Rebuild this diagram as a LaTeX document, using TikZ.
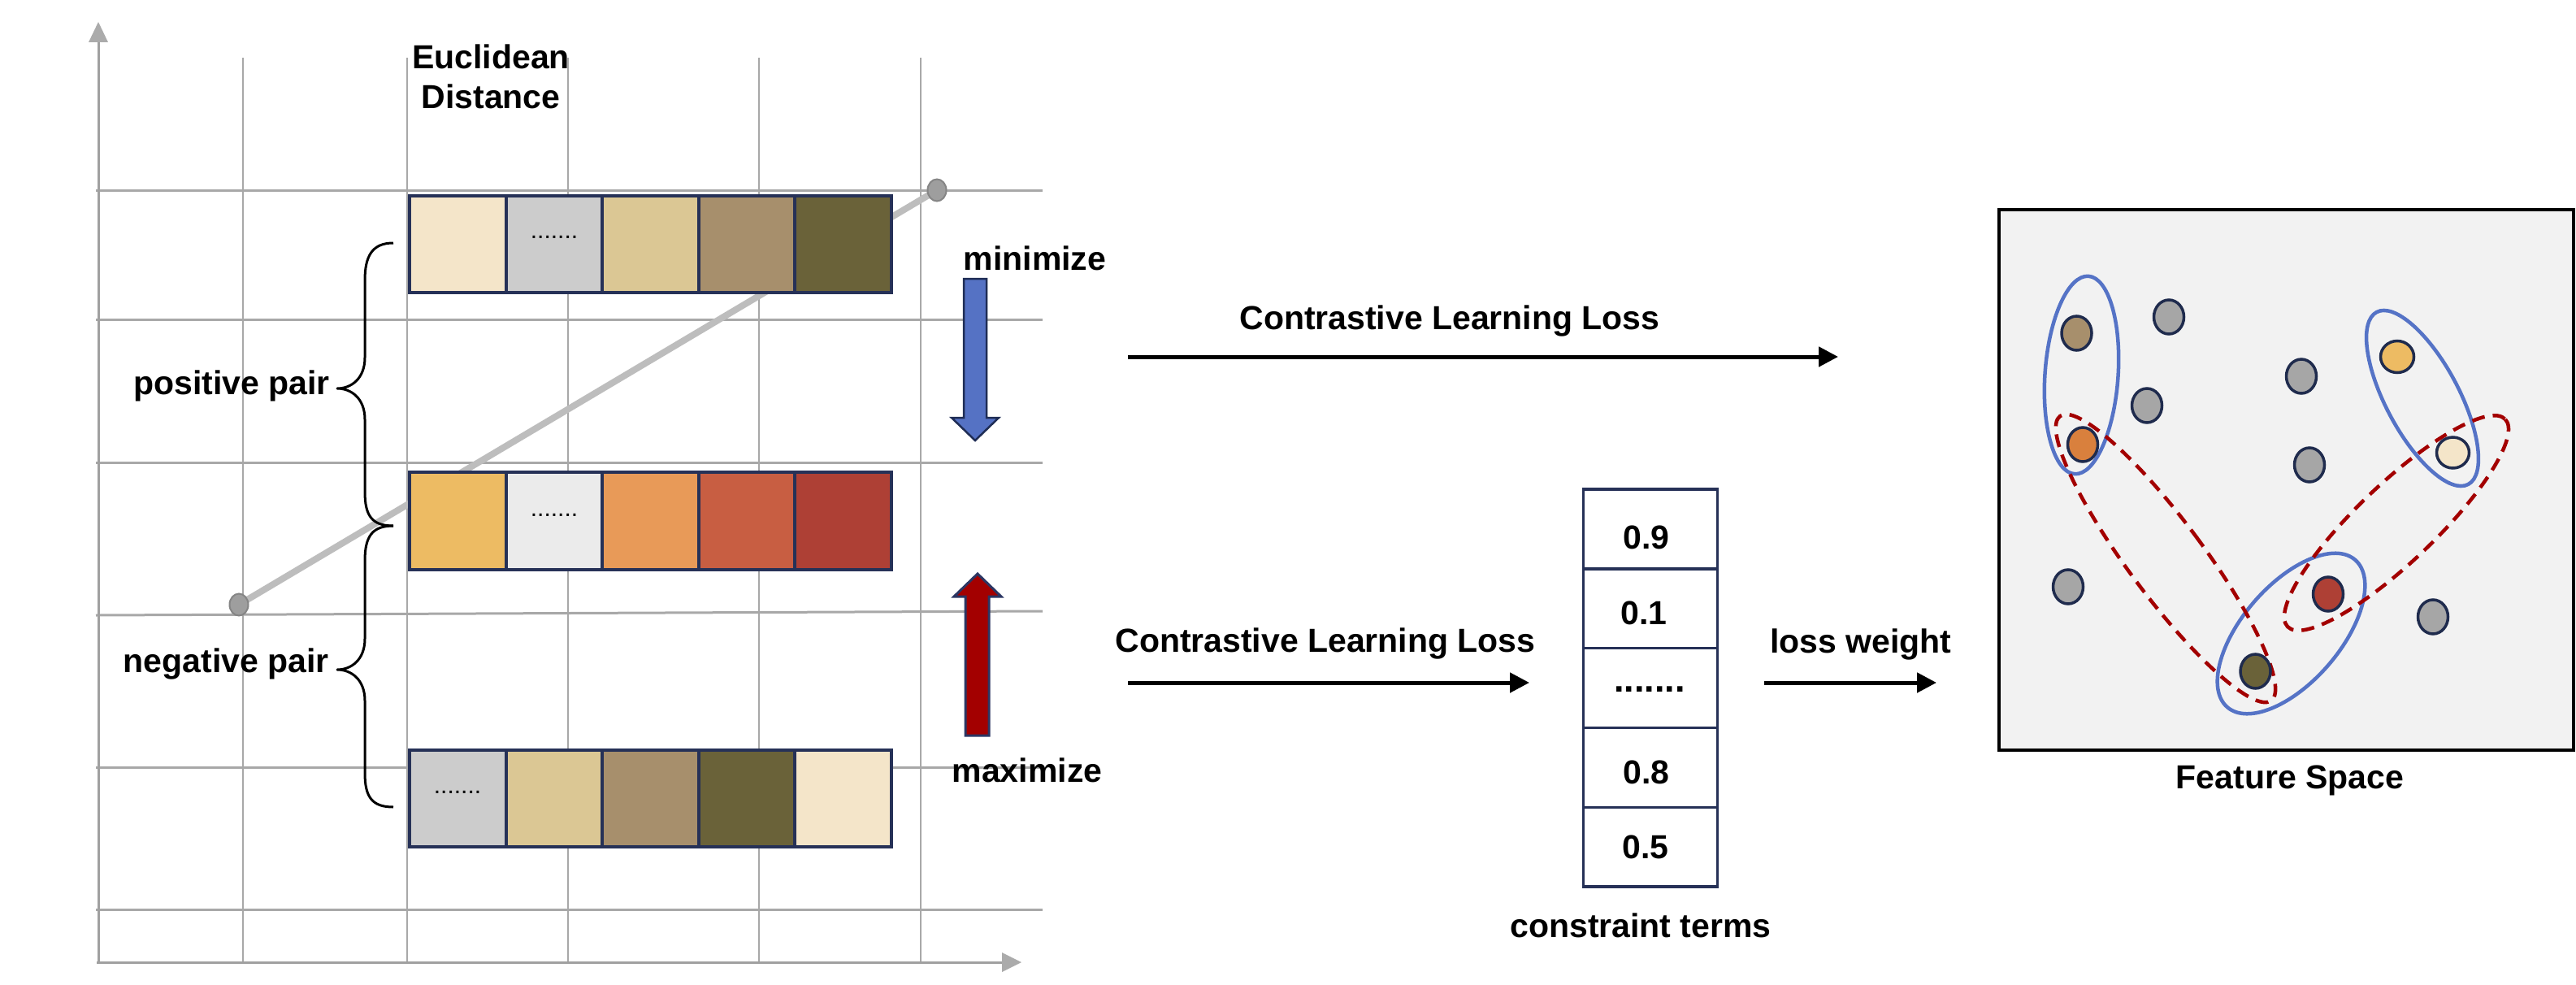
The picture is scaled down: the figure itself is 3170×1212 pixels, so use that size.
\documentclass[tikz,border=0pt]{standalone}
\usepackage{fontspec}
\setmainfont{Liberation Sans}
\usetikzlibrary{arrows.meta,shapes.geometric}
\definecolor{navy}{HTML}{263157}
\definecolor{dotnavy}{HTML}{1F2B4D}
\definecolor{gridc}{HTML}{A8A8A8}
\definecolor{axisc}{HTML}{A0A0A0}
\definecolor{axishead}{HTML}{ABABAB}
\definecolor{diagc}{HTML}{BDBDBD}
\definecolor{ballc}{HTML}{9E9E9E}
\definecolor{ballb}{HTML}{858585}
\definecolor{creamc}{HTML}{F4E5C9}
\definecolor{lgrayc}{HTML}{CCCCCC}
\definecolor{vlgrayc}{HTML}{EBEBEB}
\definecolor{tanc}{HTML}{DBC794}
\definecolor{brownc}{HTML}{A78F6C}
\definecolor{olivec}{HTML}{6A6239}
\definecolor{yellowc}{HTML}{EDBB63}
\definecolor{orangec}{HTML}{E89A58}
\definecolor{redorc}{HTML}{C85E42}
\definecolor{redc}{HTML}{AE4035}
\definecolor{dorangec}{HTML}{D9803D}
\definecolor{fgrayc}{HTML}{A6A6A6}
\definecolor{fsbg}{HTML}{F2F2F2}
\definecolor{ellblue}{HTML}{5573C6}
\definecolor{ellred}{HTML}{A30000}
\definecolor{arrblue}{HTML}{5572C4}
\definecolor{arrblueb}{HTML}{1F2D55}
\definecolor{arrred}{HTML}{A30000}
\definecolor{arrredb}{HTML}{2B3663}
\tikzset{
  lbl/.style={font=\fontsize{41pt}{49pt}\selectfont\bfseries, inner sep=0pt},
  vgrid/.style={draw=gridc, line width=2pt},
  hgrid/.style={draw=gridc, line width=3pt},
  cell/.style={draw=navy, line width=4pt, minimum width=118.6pt, minimum height=119.5pt, inner sep=0pt},
  tcell/.style={draw=navy, line width=3.5pt, minimum width=165pt, minimum height=97.8pt, inner sep=0pt},
  celldots/.style={font=\fontsize{30pt}{32pt}\selectfont, inner sep=0pt},
  fdot/.style={ellipse, draw=dotnavy, line width=3.5pt, minimum width=37pt, minimum height=42pt, inner sep=0pt},
  blueell/.style={draw=ellblue, line width=4.5pt},
  redell/.style={draw=ellred, line width=4.5pt, dash pattern=on 16pt off 10pt},
  flow/.style={line width=5pt, -{Triangle[length=24pt, width=24pt]}},
  bracepath/.style={line width=3pt, line join=round},
}
\begin{document}
\begin{tikzpicture}[x=1pt,y=-1pt]
\useasboundingbox (0,0) rectangle (3170,1212);

% ---------- grid ----------
\foreach \x in {299,501,699,934,1133} \draw[vgrid] (\x,71) -- (\x,1184);
\foreach \y in {234,393,569,944,1119} \draw[hgrid] (118,\y) -- (1283,\y);
\draw[hgrid] (118,757) -- (1283,752);
% axes
\draw[draw=axisc, line width=3pt] (121,1184) -- (121,50);
\fill[axishead] (121,27) -- (109,52) -- (133,52) -- cycle;
\draw[draw=axisc, line width=3pt] (119,1184) -- (1235,1184);
\fill[axishead] (1257,1184) -- (1233,1172) -- (1233,1196) -- cycle;

% diagonal
\coordinate (b1) at (294,744);
\coordinate (b2) at (1153,234);
\draw[diagc, line width=8pt] (b1) -- (b2);
\filldraw[fill=ballc, draw=ballb, line width=2pt] (b1) ellipse [x radius=11.5, y radius=13.5];
\filldraw[fill=ballc, draw=ballb, line width=2pt] (b2) ellipse [x radius=11.5, y radius=13.5];

% ---------- feature rows ----------
\foreach \c [count=\i] in {creamc,lgrayc,tanc,brownc,olivec}
  \node[cell, fill=\c] (t\i) at ({504+118.6*(\i-0.5)},300.5) {};
\foreach \c [count=\i] in {yellowc,vlgrayc,orangec,redorc,redc}
  \node[cell, fill=\c] (m\i) at ({504+118.6*(\i-0.5)},641) {};
\foreach \c [count=\i] in {lgrayc,tanc,brownc,olivec,creamc}
  \node[cell, fill=\c] (u\i) at ({504+118.6*(\i-0.5)},982.5) {};
\node[celldots, anchor=base] (td) at (682,293.5) {.......};
\node[celldots, anchor=base] (md) at (682,635) {.......};
\node[celldots, anchor=base] (ud) at (563,976.5) {.......};

% ---------- labels left ----------
\node[lbl, align=center, anchor=south] (eu) at (604,134) {Euclidean\\Distance};
\node[lbl, anchor=base east] (pp) at (406,485) {positive pair};
\node[lbl, anchor=base east] (np) at (405,827.5) {negative pair};

% braces
\draw[bracepath] (484,299) .. controls (458,299) and (449,315) .. (449,345)
  -- (449,440) .. controls (449,466) and (432,478) .. (415,478)
  .. controls (432,478) and (449,490) .. (449,516)
  -- (449,605) .. controls (449,635) and (458,647) .. (484,647);
\draw[bracepath] (484,647) .. controls (458,647) and (449,660) .. (449,690)
  -- (449,786) .. controls (449,812) and (432,824) .. (415,824)
  .. controls (432,824) and (449,836) .. (449,862)
  -- (449,951) .. controls (449,981) and (458,993) .. (484,993);

% minimize / maximize
\node[lbl, anchor=base] (mini) at (1273.5,332) {minimize};
\node[lbl, anchor=base] (maxi) at (1264,962) {maximize};
\filldraw[fill=arrblue, draw=arrblueb, line width=2.5pt, line join=miter]
  (1186,343) -- (1214,343) -- (1214,514) -- (1229,514) -- (1200,542) -- (1171,514) -- (1186,514) -- cycle;
\filldraw[fill=arrred, draw=arrredb, line width=3pt, line join=miter]
  (1188,905) -- (1217,905) -- (1217,734) -- (1232,734) -- (1203,706) -- (1174,734) -- (1188,734) -- cycle;

% ---------- middle ----------
\node[lbl, anchor=base] (cl1) at (1784,405) {Contrastive Learning Loss};
\coordinate (a1s) at (1388,439);
\coordinate (a1e) at (2262,439);
\draw[flow] (a1s) -- (a1e);

\node[lbl, anchor=base] (cl2) at (1631,802) {Contrastive Learning Loss};
\coordinate (a2s) at (1388,840);
\coordinate (a2e) at (1882,840);
\draw[flow] (a2s) -- (a2e);

% constraint column
\foreach \yy [count=\i] in {651,748.8,846.6,944.4,1042.2}
  \node[tcell, fill=white] (c\i) at (2031,\yy) {};
\node[lbl, anchor=base] at (2026,675) {0.9};
\node[lbl, anchor=base] at (2023,768) {0.1};
\node[lbl, anchor=base, font=\fontsize{45pt}{49pt}\selectfont\bfseries] at (2030,851.5) {.......};
\node[lbl, anchor=base] at (2026,964) {0.8};
\node[lbl, anchor=base] at (2025,1056.5) {0.5};
\node[lbl, anchor=base] (ct) at (2019,1153) {constraint terms};

\node[lbl, anchor=base] (lw) at (2290,803) {loss weight};
\coordinate (a3s) at (2171,840);
\coordinate (a3e) at (2383,840);
\draw[flow] (a3s) -- (a3e);

% ---------- feature space ----------
\node[draw=black, line width=4.5pt, fill=fsbg, minimum width=707pt, minimum height=665pt, inner sep=0pt] (fs) at (2813.5,590.5) {};
\node[lbl, anchor=base] (fsl) at (2818,970) {Feature Space};

% ellipses
\draw[blueell, rotate around={-4:(2561.5,461.5)}] (2561.5,461.5) ellipse [x radius=45, y radius=122];
\draw[blueell, rotate around={28:(2981,490)}] (2981,490) ellipse [x radius=45, y radius=120];
\draw[blueell, rotate around={-41:(2819.5,779.5)}] (2819.5,779.5) ellipse [x radius=60, y radius=120];
\draw[redell, rotate around={36.6:(2665,687)}] (2665,687) ellipse [x radius=46, y radius=218];
\draw[redell, rotate around={43.6:(2949,643.5)}] (2949,643.5) ellipse [x radius=185, y radius=48];

% dots
\node[fdot, fill=brownc] (d1) at (2555.5,410) {};
\node[fdot, fill=fgrayc] (d2) at (2669,390) {};
\node[fdot, fill=fgrayc] (d3) at (2642,499) {};
\node[fdot, fill=dorangec] (d4) at (2563,547) {};
\node[fdot, fill=fgrayc] (d5) at (2832,463) {};
\node[fdot, fill=fgrayc] (d6) at (2842,572) {};
\node[fdot, fill=yellowc, minimum width=41pt, minimum height=39pt] (d7) at (2950,439) {};
\node[fdot, fill=creamc, minimum width=40pt, minimum height=38pt] (d8) at (3018.5,557) {};
\node[fdot, fill=fgrayc] (d9) at (2545,722) {};
\node[fdot, fill=redc] (d10) at (2865,731) {};
\node[fdot, fill=olivec] (d11) at (2775.5,826) {};
\node[fdot, fill=fgrayc] (d12) at (2994,759) {};
\end{tikzpicture}
\end{document}
